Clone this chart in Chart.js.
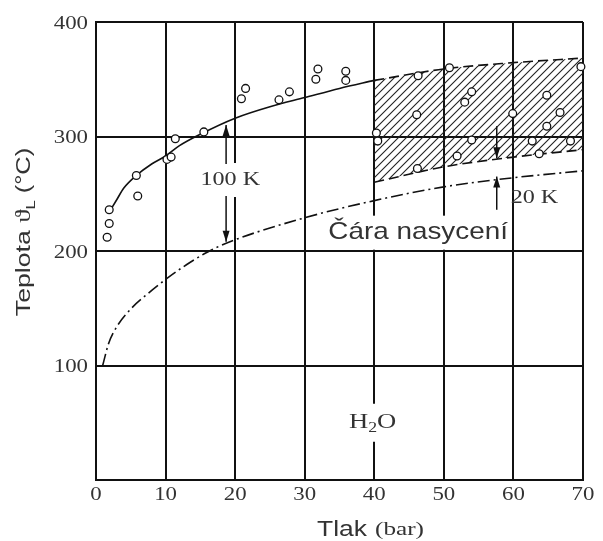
<!DOCTYPE html>
<html>
<head>
<meta charset="utf-8">
<script src="https://cdn.jsdelivr.net/npm/chart.js@4"></script>
<style>
  html, body { margin: 0; padding: 0; background: #fff; }
  canvas { display: block; }
</style>
</head>
<body>
<canvas id="chart" width="603" height="541"></canvas>
<script>
// naměřené body (tlak v bar, teplota ve °C)
const measuredP = [1.6, 1.9, 1.9, 5.8, 6.0, 10.2, 10.8, 11.4, 15.5, 20.9, 21.5, 26.3, 27.8, 31.6, 31.9, 35.9, 35.9,
    40.3, 40.5, 46.3, 46.1, 46.2, 50.8, 54.0, 53.0, 54.0, 51.9, 59.9, 64.8, 66.7, 64.8, 62.7, 63.7, 68.2, 69.7];
const measuredT = [212, 224, 236, 266, 248, 280, 282, 298, 304, 333, 342, 332, 339, 350, 359, 357, 349,
    303, 296, 353, 319, 272, 360, 339, 330, 297, 283, 320, 336, 321, 309, 296, 285, 296, 361];

// plná křivka
const fitP = [1.9, 3, 4, 5.8, 8, 10, 12, 15, 20, 25, 30, 35, 40];
const fitT = [234, 245, 255, 266, 276, 283, 292, 302, 316, 326, 334, 342, 349];

// šrafované pásmo
const bandP = [40, 50, 60, 70];
const bandTop = [349, 359, 364.5, 368.5];
const bandBottom = [260, 273.5, 282, 288.5];

// čára nasycení
const satP = [0.96, 1.8, 3, 5.1, 7.5, 10.2, 13, 15.7, 18.8, 30, 40, 50, 60, 70];
const satT = [100, 119, 134, 150, 163, 176, 188, 198, 207, 229, 244, 256, 264, 270];

// popisky os
const xTicks = [0, 10, 20, 30, 40, 50, 60, 70];
const yTicks = [100, 200, 300, 400];

function toPoints(xs, ys) {
    return xs.map((x, i) => ({ x: x, y: ys[i] }));
}

// šrafování
function makeHatch() {
    const c = document.createElement("canvas");
    c.width = 8;
    c.height = 8;
    const g = c.getContext("2d");
    g.strokeStyle = "#222";
    g.lineWidth = 1.1;
    g.beginPath();
    g.moveTo(-1, 9); g.lineTo(9, -1);
    g.moveTo(-5, 5); g.lineTo(5, -5);
    g.moveTo(3, 13); g.lineTo(13, 3);
    g.stroke();
    return g.createPattern(c, "repeat");
}

const serif = "'Liberation Serif', 'DejaVu Serif', serif";
const sans = "'Liberation Sans', Arial, sans-serif";
const STRETCH = 1.27; // text v předloze je vodorovně roztažený
const TEXT = "#333";

// text roztažený do šířky
function wideText(ctx, text, x, y, font, align, sx) {
    sx = sx || STRETCH;
    ctx.save();
    ctx.font = font;
    const w = ctx.measureText(text).width * sx;
    let left = x;
    if (align === "center") left = x - w / 2;
    if (align === "right") left = x - w;
    ctx.translate(left, y);
    ctx.scale(sx, 1);
    ctx.textAlign = "left";
    ctx.fillText(text, 0, 0);
    ctx.restore();
    return w;
}

function textBox(ctx, text, x, y, font, sx) {
    ctx.font = font;
    const w = ctx.measureText(text).width * (sx || STRETCH);
    ctx.fillStyle = "#fff";
    ctx.fillRect(x - w / 2 - 3, y - 17, w + 6, 34);
    ctx.fillStyle = TEXT;
    ctx.textBaseline = "middle";
    wideText(ctx, text, x, y, font, "center", sx);
}

function arrow(ctx, x, y1, y2) {
    // y2 je hrot
    ctx.strokeStyle = "#111";
    ctx.fillStyle = "#111";
    ctx.lineWidth = 1.5;
    ctx.beginPath();
    ctx.moveTo(x, y1);
    ctx.lineTo(x, y2);
    ctx.stroke();
    const d = y2 > y1 ? 1 : -1;
    ctx.beginPath();
    ctx.moveTo(x, y2);
    ctx.lineTo(x - 3.5, y2 - d * 11);
    ctx.lineTo(x + 3.5, y2 - d * 11);
    ctx.closePath();
    ctx.fill();
}

const labelsPlugin = {
    id: "labels",
    beforeDatasetsDraw(chart) {
        const ctx = chart.ctx;
        const xs = chart.scales.x, ys = chart.scales.y;
        ctx.save();
        // "100 K" přerušuje mřížku
        textBox(ctx, "100 K", xs.getPixelForValue(19.3), ys.getPixelForValue(262), "19px " + serif);
        // H2O
        const hx = xs.getPixelForValue(39.8), hy = ys.getPixelForValue(50);
        ctx.fillStyle = "#fff";
        ctx.fillRect(hx - 27, hy - 19, 54, 38);
        ctx.fillStyle = TEXT;
        ctx.textBaseline = "middle";
        let x = hx - 24;
        x += wideText(ctx, "H", x, hy, "21px " + serif, "left");
        x += wideText(ctx, "2", x, hy + 6, "14px " + serif, "left");
        wideText(ctx, "O", x, hy, "21px " + serif, "left");
        // Čára nasycení
        textBox(ctx, "Čára nasycení", xs.getPixelForValue(46.3), ys.getPixelForValue(216), "24px " + sans, 1.16);
        ctx.restore();
    },
    afterDatasetsDraw(chart) {
        const ctx = chart.ctx;
        const xs = chart.scales.x, ys = chart.scales.y;
        ctx.save();
        const ax = xs.getPixelForValue(18.7);
        arrow(ctx, ax, ys.getPixelForValue(276), ys.getPixelForValue(310));
        arrow(ctx, ax, ys.getPixelForValue(248), ys.getPixelForValue(208));
        const bx = xs.getPixelForValue(57.6);
        arrow(ctx, bx, ys.getPixelForValue(309), ys.getPixelForValue(281));
        arrow(ctx, bx, ys.getPixelForValue(236), ys.getPixelForValue(265));
        ctx.fillStyle = TEXT;
        ctx.textBaseline = "middle";
        wideText(ctx, "20 K", xs.getPixelForValue(59.6), ys.getPixelForValue(246), "19px " + serif, "left");
        ctx.restore();
    },
    afterDraw(chart) {
        const ctx = chart.ctx;
        const xs = chart.scales.x, ys = chart.scales.y;
        ctx.save();
        ctx.fillStyle = TEXT;
        // popisky os
        ctx.textBaseline = "middle";
        xTicks.forEach(v => {
            wideText(ctx, String(v), xs.getPixelForValue(v), 495, "18px " + serif, "center");
        });
        yTicks.forEach(v => {
            wideText(ctx, String(v), 88, ys.getPixelForValue(v) + 2, "18px " + serif, "right");
        });
        // název osy x
        ctx.textBaseline = "alphabetic";
        wideText(ctx, "Tlak", 317, 536, "22px " + sans, "left", 1.2);
        wideText(ctx, "(bar)", 375, 535, "18px " + serif, "left", 1.4);
        // název osy y
        ctx.translate(30, 232);
        ctx.rotate(-Math.PI / 2);
        const parts = [["Teplota ", "21px " + sans, 0], ["ϑ", "21px " + serif, 0], ["L", "13px " + sans, 5], [" (°C)", "20px " + sans, 0]];
        let total = 0;
        parts.forEach(p => { ctx.font = p[1]; total += ctx.measureText(p[0]).width * STRETCH; });
        let x = -total / 2;
        parts.forEach(p => {
            x += wideText(ctx, p[0], x, p[2], p[1], "left");
        });
        ctx.restore();
    }
};

const ctx = document.getElementById("chart").getContext("2d");
new Chart(ctx, {
    type: "line",
    data: {
        datasets: [
            {
                label: "měření",
                data: toPoints(measuredP, measuredT),
                showLine: false,
                pointRadius: 3.9,
                pointBorderWidth: 1.3,
                pointBorderColor: "#111",
                pointBackgroundColor: "#fff",
                clip: false,
                order: 0
            },
            {
                label: "křivka",
                data: toPoints(fitP, fitT),
                borderColor: "#111",
                borderWidth: 1.6,
                pointRadius: 0,
                cubicInterpolationMode: "monotone",
                fill: false,
                order: 1
            },
            {
                label: "horní mez",
                data: toPoints(bandP, bandTop),
                borderColor: "#111",
                borderWidth: 1.6,
                borderDash: [10, 5],
                pointRadius: 0,
                cubicInterpolationMode: "monotone",
                fill: false,
                order: 1
            },
            {
                label: "dolní mez",
                data: toPoints(bandP, bandBottom),
                borderColor: "#111",
                borderWidth: 1.6,
                borderDash: [10, 5],
                pointRadius: 0,
                cubicInterpolationMode: "monotone",
                backgroundColor: makeHatch(),
                fill: "-1",
                order: 1
            },
            {
                label: "čára nasycení",
                data: toPoints(satP, satT),
                borderColor: "#111",
                borderWidth: 1.6,
                borderDash: [12, 4, 2, 4],
                pointRadius: 0,
                cubicInterpolationMode: "monotone",
                fill: false,
                order: 1
            }
        ]
    },
    options: {
        responsive: false,
        animation: false,
        layout: { padding: { top: 22, right: 20, left: 0, bottom: 0 } },
        plugins: {
            legend: { display: false },
            tooltip: { enabled: false }
        },
        scales: {
            x: {
                type: "linear",
                min: 0,
                max: 70,
                afterBuildTicks: axis => { axis.ticks = xTicks.map(v => ({ value: v })); },
                afterFit: axis => { axis.height = 61; },
                grid: { color: "#111", lineWidth: 2, drawTicks: false },
                border: { color: "#111", width: 2 },
                ticks: { display: false }
            },
            y: {
                min: 0,
                max: 400,
                afterBuildTicks: axis => { axis.ticks = [0].concat(yTicks).map(v => ({ value: v })); },
                afterFit: axis => { axis.width = 96; },
                grid: { color: "#111", lineWidth: 2, drawTicks: false },
                border: { color: "#111", width: 2 },
                ticks: { display: false }
            }
        }
    },
    plugins: [labelsPlugin]
});
</script>
</body>
</html>
